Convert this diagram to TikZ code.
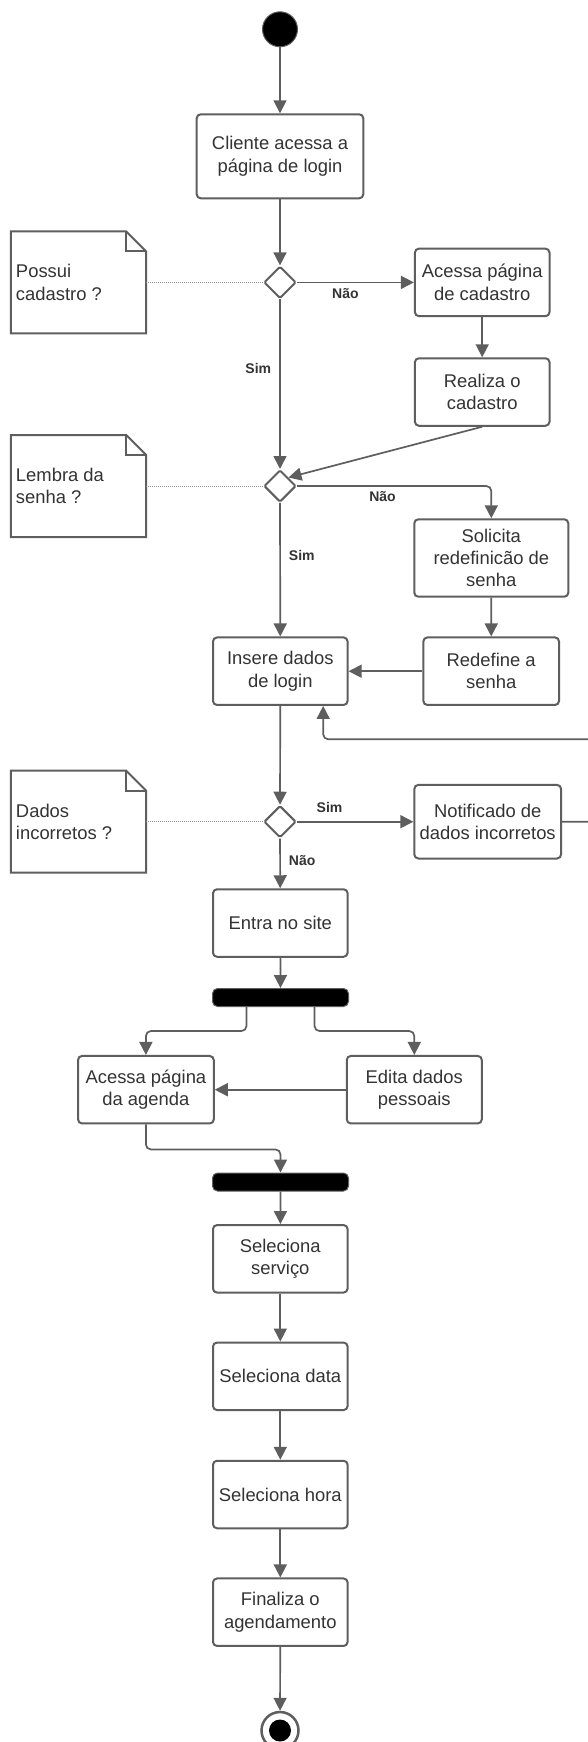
\documentclass[tikz,border=0pt]{standalone}
\usepackage{fontspec}
\setmainfont{Liberation Sans}
\usetikzlibrary{shapes.geometric, arrows.meta}

\definecolor{linegray}{RGB}{94,94,94}
\definecolor{inkgray}{RGB}{51,51,51}

% dog-eared outline around an (invisible) memo node
\newcommand\drawmemo[1]{%
  \draw[memoline] (#1.south west) -- (#1.north west) -- ([xshift=-20pt]#1.north east)
    -- ([yshift=-20pt]#1.north east) -- (#1.south east) -- cycle;
  \draw[memoline, fill=none] ([xshift=-20pt]#1.north east)
    -- ([xshift=-20pt,yshift=-20pt]#1.north east) -- ([yshift=-20pt]#1.north east);
}

\begin{document}
\begin{tikzpicture}[x=1pt, y=-1pt,
  act/.style={draw=linegray, line width=2pt, rounded corners=4pt, fill=white,
    minimum width=134.6pt, minimum height=67.5pt, inner sep=1pt, align=center,
    text=inkgray, font=\fontsize{18.4}{22.3}\selectfont},
  choice/.style={diamond, draw=linegray, line width=2pt, fill=white,
    minimum width=32pt, minimum height=32pt, inner sep=0pt, rounded corners=1.5pt},
  bar/.style={draw=linegray, line width=1pt, fill=black, rounded corners=5pt,
    minimum width=136pt, minimum height=18pt, inner sep=0pt},
  flow/.style={draw=linegray, line width=1.7pt, -{Triangle[length=13pt, width=13pt]}},
  memo/.style={minimum width=135pt, minimum height=101.6pt, inner sep=0pt},
  memoline/.style={draw=linegray, line width=2pt, fill=white, line join=miter},
  memotext/.style={anchor=west, align=left, inner sep=0pt, text=inkgray,
    font=\fontsize{18.4}{22.3}\selectfont},
  tie/.style={draw=gray!85, line width=1pt, dash pattern=on 1pt off 1pt},
  lbl/.style={font=\fontsize{14}{16}\selectfont\bfseries, inner sep=0pt, text=inkgray},
]
\useasboundingbox (0,0) rectangle (588,1742);
\clip (0,0) rectangle (588,1742);
\fill[white] (0,0) rectangle (588,1742);

% start / end
\node[circle, fill=black, draw=linegray, line width=1pt, minimum size=35pt, inner sep=0pt] (start) at (280,29.3) {};
\node[circle, draw=linegray, line width=2.5pt, fill=white, minimum size=37pt, inner sep=0pt] (stop) at (280,1730.5) {};
\node[circle, fill=black, minimum size=22pt, inner sep=0pt] (stopdot) at (stop.center) {};

% memos
\node[memo] (m1) at (78.5,282.4) {};
\node[memo] (m2) at (78.5,486) {};
\node[memo] (m3) at (78.5,821.7) {};
\drawmemo{m1}
\drawmemo{m2}
\drawmemo{m3}
\node[memotext] (m1t) at ([xshift=5pt]m1.west) {Possui\\cadastro ?};
\node[memotext] (m2t) at ([xshift=5pt]m2.west) {Lembra da\\senha ?};
\node[memotext] (m3t) at ([xshift=5pt]m3.west) {Dados\\incorretos ?};

% activities
\node[act, minimum width=166.6pt, minimum height=84pt] (login) at (280,156.3) {Cliente acessa a\\página de login};
\node[choice] (d1) at (280,282.4) {};
\node[act] (acad) at (482.2,282.4) {Acessa página\\de cadastro};
\node[act] (real) at (482.2,392) {Realiza o\\cadastro};
\node[choice] (d2) at (280,486) {};
\node[act, minimum width=154pt, minimum height=77.4pt] (sol) at (491.3,558) {Solicita\\redefinicão de\\senha};
\node[act, minimum width=135.7pt] (redef) at (491.2,671.2) {Redefine a\\senha};
\node[act] (ins) at (280.3,671.2) {Insere dados\\de login};
\node[choice] (d3) at (280,821.7) {};
\node[act, minimum width=146.7pt, minimum height=73.6pt] (notif) at (487.7,821.7) {Notificado de\\dados incorretos};
\node[act] (site) at (280.3,923) {Entra no site};
\node[bar] (fork) at (280.5,997.5) {};
\node[act, minimum width=135.7pt] (agenda) at (145.9,1089.7) {Acessa página\\da agenda};
\node[act, minimum width=135pt] (edit) at (414.3,1089.7) {Edita dados\\pessoais};
\node[bar] (join) at (280.5,1182) {};
\node[act] (serv) at (280.3,1258.8) {Seleciona\\serviço};
\node[act] (data) at (280.3,1376.3) {Seleciona data};
\node[act] (hora) at (280.3,1494.5) {Seleciona hora};
\node[act] (fin) at (280.3,1612.2) {Finaliza o\\agendamento};

% note ties
\draw[tie] (m1) -- (d1);
\draw[tie] (m2) -- (d2);
\draw[tie] (m3) -- (d3);

% loop corners
\coordinate (loopR) at (600,739.3);
\coordinate (loopL) at (323.2,739.3);

% flows
\draw[flow] (start) -- (login);
\draw[flow] (login) -- (d1);
\draw[flow] (d1) -- node[lbl, pos=0.414, below=5pt] (nao1) {Não} (acad);
\draw[flow] (acad) -- (real);
\draw[flow] (d1) -- node[lbl, pos=0.41, left=8pt] (sim1) {Sim} (d2);
\draw[flow] (real.south) -- (d2.north east);
\draw[flow, rounded corners=5pt] (d2.east) -| node[lbl, pos=0.22, below=5pt] (nao2) {Não} (sol.north);
\draw[flow] (sol) -- (redef);
\draw[flow] (redef) -- (ins);
\draw[flow] (d2) -- node[lbl, pos=0.39, right=8pt] (sim2) {Sim} (ins);
\draw[flow] (ins) -- (d3);
\draw[flow] (d3) -- node[lbl, pos=0.28, above=8pt] (sim3) {Sim} (notif);
\draw[flow, rounded corners=5pt] (notif.east) -| (loopR) -- (loopL) -- (loopL |- ins.south);
\draw[flow] (d3) -- node[lbl, pos=0.45, right=8pt] (nao3) {Não} (site);
\draw[flow] (site) -- (fork);
\draw[flow, rounded corners=5pt] ([xshift=-34pt]fork.south) -- ++(0,24) -| (agenda.north);
\draw[flow, rounded corners=5pt] ([xshift=34pt]fork.south) -- ++(0,24) -| (edit.north);
\draw[flow] (edit) -- (agenda);
\draw[flow, rounded corners=5pt] (agenda.south) -- ++(0,25) -| (join.north);
\draw[flow] (join) -- (serv);
\draw[flow] (serv) -- (data);
\draw[flow] (data) -- (hora);
\draw[flow] (hora) -- (fin);
\draw[flow] (fin) -- (stop);
\end{tikzpicture}
\end{document}
